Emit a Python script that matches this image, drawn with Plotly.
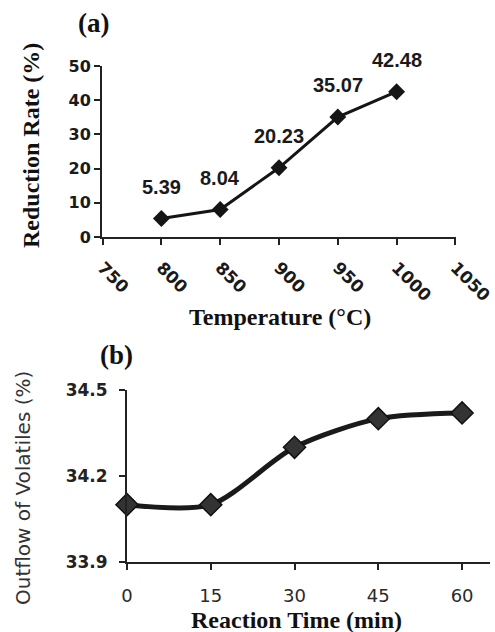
import plotly.graph_objects as go

# Panel (a)
temp = [800, 850, 900, 950, 1000]
reduction = [5.39, 8.04, 20.23, 35.07, 42.48]
temp_ticks = [750, 800, 850, 900, 950, 1000, 1050]
red_ticks = [0, 10, 20, 30, 40, 50]

# Panel (b)
time_min = [0, 15, 30, 45, 60]
outflow = [34.10, 34.10, 34.30, 34.40, 34.42]
time_ticks = [0, 15, 30, 45, 60]
out_ticks = [33.9, 34.2, 34.5]

W, H = 495, 632
def fx(px): return px / W
def fy(py): return 1 - py / H

fig = go.Figure()
fig.add_trace(go.Scatter(x=temp, y=reduction, mode="lines+markers",
                         line=dict(color="#151515", width=3),
                         marker=dict(symbol="diamond", size=13, color="#151515"),
                         xaxis="x", yaxis="y", cliponaxis=False, showlegend=False))
fig.add_trace(go.Scatter(x=time_min, y=outflow, mode="lines+markers",
                         line=dict(color="#1a1a1a", width=5, shape="spline", smoothing=0.8),
                         marker=dict(symbol="diamond", size=17, color="#333333",
                                     line=dict(color="#111111", width=1.5)),
                         xaxis="x2", yaxis="y2", cliponaxis=False, showlegend=False))

tick_a = dict(family="DejaVu Sans", size=16, color="#1a1a1a")
serif_bold = "Liberation Serif"

def pann(px, py, text, size, family, color="#111", angle=0):
    return dict(x=fx(px), y=fy(py), xref="paper", yref="paper", text=text, showarrow=False,
                xanchor="center", yanchor="middle", textangle=angle,
                font=dict(family=family, size=size, color=color))

ann = []
for t, r in zip(temp, reduction):
    ann.append(dict(x=t, y=r, xref="x", yref="y", text=f"<b>{r:.2f}</b>", showarrow=False,
                    yshift=32, font=dict(family="Liberation Sans", size=20, color="#1a1a1a")))
ann += [
    pann(93, 23, "<b>(a)</b>", 27, serif_bold),
    pann(31, 146, "<b>Reduction Rate (%)</b>", 24, serif_bold, angle=-90),
    pann(280, 317, "<b>Temperature (°C)</b>", 24, serif_bold),
    pann(116, 355, "<b>(b)</b>", 27, serif_bold),
    pann(23, 488, "Outflow of Volatiles (%)", 20, "DejaVu Sans", color="#333", angle=-90),
    pann(296, 620, "<b>Reaction Time (min)</b>", 24, serif_bold),
]

axis_common = dict(showgrid=False, zeroline=False, showline=True, linecolor="#222",
                   linewidth=2, ticks="outside", tickcolor="#222", tickwidth=2, ticklen=6,
                   automargin=False, ticklabeloverflow="allow")

fig.update_layout(
    width=W, height=H, margin=dict(l=0, r=0, t=0, b=0),
    paper_bgcolor="white", plot_bgcolor="white",
    xaxis=dict(domain=[fx(102), fx(456)], range=[749.5, 1050.5], tickvals=temp_ticks,
               ticktext=[f"<b>{v}</b>" for v in temp_ticks], tickangle=45,
               tickfont=dict(family="DejaVu Sans", size=17, color="#1a1a1a"),
               ticklabelstandoff=6, anchor="y", **axis_common),
    yaxis=dict(domain=[fy(237), fy(66)], range=[0, 50], tickvals=red_ticks,
               ticktext=[f"<b>{v}</b>" for v in red_ticks], tickfont=tick_a,
               anchor="x", **axis_common),
    xaxis2=dict(domain=[fx(127), fx(490)], range=[0, 65], tickvals=time_ticks,
                tickfont=dict(family="DejaVu Sans", size=18, color="#2a2a2a"),
                ticklabelstandoff=10, anchor="y2", **axis_common),
    yaxis2=dict(domain=[fy(562), fy(390)], range=[33.9, 34.5], tickvals=out_ticks,
                ticktext=[f"<b>{v:.1f}</b>" for v in out_ticks],
                tickfont=dict(family="DejaVu Sans", size=17, color="#222"),
                ticklabelstandoff=8, anchor="x2", **axis_common),
    annotations=ann,
)

fig.write_html("out.html", config={"displayModeBar": False},
               post_script="document.body.style.margin='0';document.body.style.overflow='hidden';")
